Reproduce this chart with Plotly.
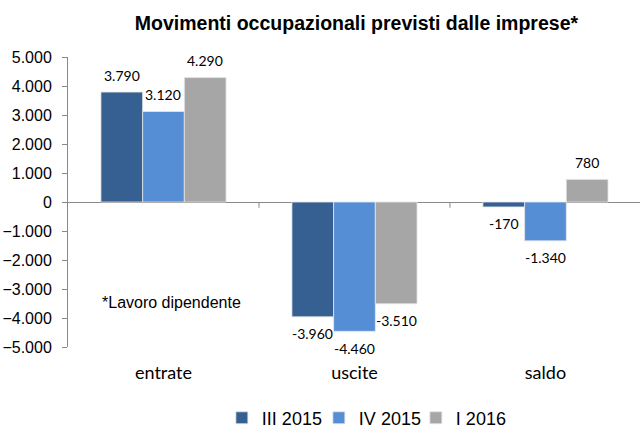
import plotly.graph_objects as go

categories = ["entrate", "uscite", "saldo"]
series_names = ["III 2015", "IV 2015", "I 2016"]
values_III_2015 = [3790, -3960, -170]
values_IV_2015 = [3120, -4460, -1340]
values_I_2016 = [4290, -3510, 780]
colors = ["#376092", "#558ED5", "#A6A6A6"]
y_ticks = [-5000, -4000, -3000, -2000, -1000, 0, 1000, 2000, 3000, 4000, 5000]
title_text = "Movimenti occupazionali previsti dalle imprese*"
note_text = "*Lavoro dipendente"

BARGAP = 0.345
series_values = [values_III_2015, values_IV_2015, values_I_2016]

fig = go.Figure()
for name, vals, col in zip(series_names, series_values, colors):
    fig.add_trace(go.Bar(
        x=categories, y=vals, name=name,
        marker=dict(color=col, line=dict(color="#E6E6E6", width=0.8)),
    ))


def fmt(v):
    s = f"{abs(v):,}".replace(",", ".")
    return ("-" if v < 0 else "") + s


# data labels placed on the grouped-bar positions of the category axis
n = len(series_values)
bw = (1 - BARGAP) / n
for i, vals in enumerate(series_values):
    for j, v in enumerate(vals):
        fig.add_annotation(
            x=j + (i - (n - 1) / 2) * bw, y=v, xref="x", yref="y",
            text=fmt(v), showarrow=False, yanchor="middle", xanchor="center",
            yshift=17 if v >= 0 else -17,
            font=dict(family="Lato", size=14, color="#000000"),
        )

# small tick marks at category boundaries on the zero line
for i in range(1, len(categories)):
    fig.add_shape(type="line", xref="x", yref="y", x0=i - 0.5, x1=i - 0.5,
                  y0=0, y1=-200, line=dict(color="#898989", width=1))

fig.add_annotation(text=note_text, xref="paper", yref="paper", x=0.056, y=0.155,
                   xanchor="left", yanchor="middle", showarrow=False,
                   font=dict(family="Liberation Sans, Arial", size=16, color="#000000"))

fig.update_layout(
    width=640, height=429,
    margin=dict(l=68, r=0, t=57, b=82, autoexpand=False),
    paper_bgcolor="white", plot_bgcolor="white",
    separators=",.",
    barmode="group", bargap=BARGAP, bargroupgap=0,
    title=dict(text="<b>" + title_text + "</b>", x=0.557, xanchor="center",
               y=0.946, yanchor="middle",
               font=dict(family="Liberation Sans, Arial", size=19.5, color="#000000")),
    showlegend=True,
    legend=dict(orientation="h", x=0.269, xanchor="left", y=-0.245, yanchor="middle",
                font=dict(family="Liberation Sans, Arial", size=18, color="#000000"),
                entrywidth=52, entrywidthmode="pixels", traceorder="normal",
                bgcolor="rgba(0,0,0,0)"),
)
fig.update_xaxes(range=[-0.5, 2.495], showgrid=False, showline=False, ticks="",
                 ticklabelstandoff=13,
                 tickfont=dict(family="Lato", size=18, color="#000000"))
fig.update_yaxes(range=[-5000, 5000], tickvals=y_ticks, tickformat=",",
                 showgrid=False, showline=True, linecolor="#898989", linewidth=1,
                 ticks="outside", ticklen=5, tickcolor="#898989",
                 ticklabelstandoff=7,
                 zeroline=True, zerolinecolor="#898989", zerolinewidth=1,
                 tickfont=dict(family="Liberation Sans, Arial", size=16, color="#000000"))

fig.write_html("out.html", config={"displayModeBar": False},
               post_script="document.body.style.margin='0';document.body.style.overflow='hidden';")
